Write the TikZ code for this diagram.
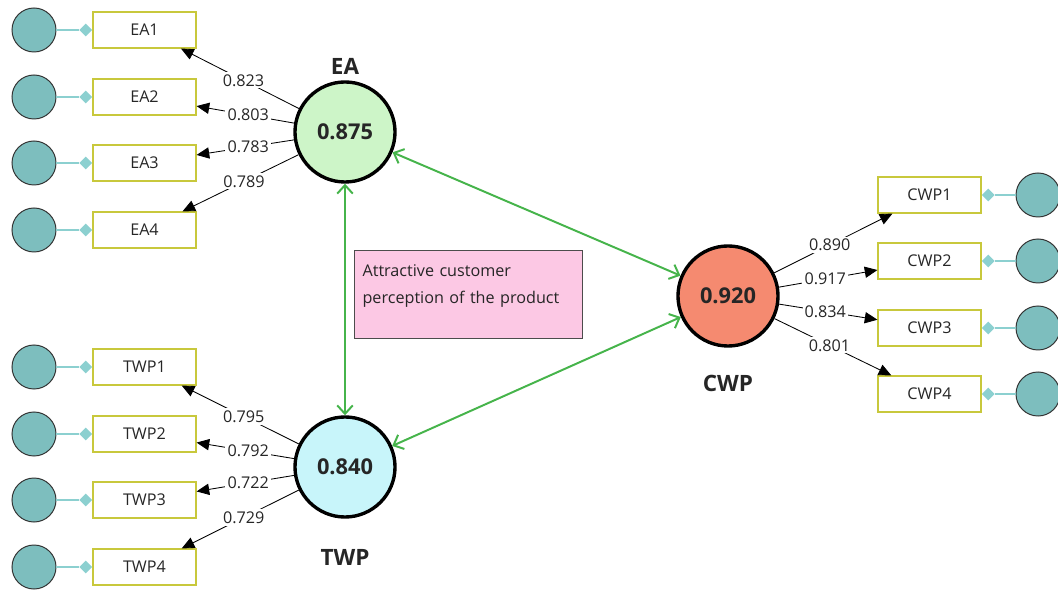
\documentclass[tikz,border=0pt]{standalone}
\usepackage{fontspec}
\setmainfont{Open Sans}
\usepackage{tikz}
\usetikzlibrary{arrows.meta, positioning, shapes.geometric}
\definecolor{eagreen}{RGB}{205, 245, 200}
\definecolor{twpcyan}{RGB}{200, 245, 250}
\definecolor{cwpsalmon}{RGB}{245, 138, 112}
\definecolor{indteal}{RGB}{125, 190, 190}
\definecolor{ticteal}{RGB}{140, 208, 208}
\definecolor{boxyellow}{RGB}{200, 200, 60}
\definecolor{pathgreen}{RGB}{70, 180, 75}
\definecolor{notepink}{RGB}{252, 200, 228}

\begin{document}
\begin{tikzpicture}[x=0.025cm, y=-0.025cm,
    every node/.style={font=\fontsize{11.5}{13}\selectfont, text=black!85},
    latent/.style={circle, draw=black, line width=2.4pt, minimum size=2.5cm, inner sep=0pt, font=\fontsize{15.5}{18}\selectfont\bfseries},
    lvname/.style={font=\fontsize{16}{19}\selectfont\bfseries},
    item/.style={draw=boxyellow, line width=0.8pt, fill=white, minimum width=2.575cm, minimum height=0.9cm, inner sep=0pt},
    errc/.style={circle, draw=black!80, line width=0.7pt, fill=indteal, minimum size=1.1cm, inner sep=0pt},
    tic/.style={diamond, fill=ticteal, inner sep=0pt, minimum size=0.32cm},
    load/.style={-{Triangle[length=9pt, width=8pt]}, line width=0.6pt},
    wlabel/.style={fill=white, inner sep=1.5pt, pos=0.47},
    corr/.style={{Straight Barb[length=6pt, width=11pt]}-{Straight Barb[length=6pt, width=11pt]}, pathgreen, line width=1.4pt},
    note/.style={draw=black!70, line width=0.8pt, fill=notepink, anchor=north west, minimum width=5.7cm, minimum height=2.2cm, text width=5.3cm, text depth=1.2cm, align=left, inner xsep=0.2cm, inner ysep=0.05cm, font=\fontsize{11.5}{19.5}\selectfont}]
    \useasboundingbox (0,0) rectangle (1058,596);

    % Konstrukte
    \node[latent, fill=eagreen] (EA) at (345,132) {0.875};
    \node[latent, fill=twpcyan] (TWP) at (345,467) {0.840};
    \node[latent, fill=cwpsalmon] (CWP) at (728,296) {0.920};
    \node[lvname] (EAname) at (345,66) {EA};
    \node[lvname] (TWPname) at (345,557) {TWP};
    \node[lvname] (CWPname) at (728,383) {CWP};

    % EA Indikatoren
    \foreach \i/\y/\v in {1/30/0.823, 2/97/0.803, 3/163/0.783, 4/230/0.789} {
        \node[errc] (eEA\i) at (34,\y) {};
        \node[item] (EA\i) at (144.5,\y) {EA\i};
        \node[tic, left=0pt of EA\i] (dEA\i) {};
        \draw[ticteal, line width=0.8pt] (eEA\i) -- (dEA\i);
        \draw[load] (EA) -- node[wlabel] {\v} (EA\i);
    }

    % TWP Indikatoren
    \foreach \i/\y/\v in {1/367/0.795, 2/434/0.792, 3/500/0.722, 4/567/0.729} {
        \node[errc] (eTWP\i) at (34,\y) {};
        \node[item] (TWP\i) at (144.5,\y) {TWP\i};
        \node[tic, left=0pt of TWP\i] (dTWP\i) {};
        \draw[ticteal, line width=0.8pt] (eTWP\i) -- (dTWP\i);
        \draw[load] (TWP) -- node[wlabel] {\v} (TWP\i);
    }

    % CWP Indikatoren
    \foreach \i/\y/\v in {1/195/0.890, 2/261/0.917, 3/328/0.834, 4/394/0.801} {
        \node[errc] (eCWP\i) at (1038,\y) {};
        \node[item] (CWP\i) at (929.5,\y) {CWP\i};
        \node[tic, right=0pt of CWP\i] (dCWP\i) {};
        \draw[ticteal, line width=0.8pt] (eCWP\i) -- (dCWP\i);
        \draw[load] (CWP) -- node[wlabel] {\v} (CWP\i);
    }

    % Korrelationen
    \draw[corr] (EA) -- (TWP);
    \draw[corr] (EA) -- (CWP);
    \draw[corr] (TWP) -- (CWP);

    \node[note] (hint) at (354,250) {Attractive customer\\perception of the product};
\end{tikzpicture}
\end{document}
